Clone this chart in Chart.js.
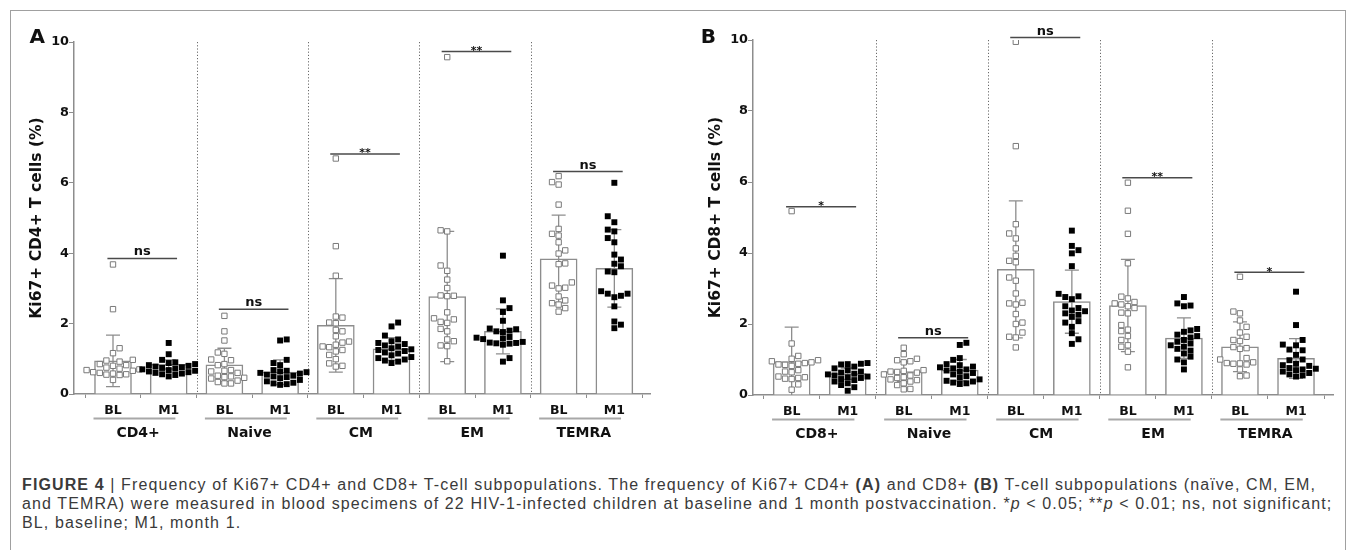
<!DOCTYPE html>
<html>
<head>
<meta charset="utf-8">
<script src="https://cdn.jsdelivr.net/npm/chart.js@4.4.1/dist/chart.umd.min.js"></script>
<style>
  body { margin: 0; background: #fff; width: 1356px; height: 550px; overflow: hidden; font-family: "Liberation Sans", Arial, sans-serif; }
  #frame { position: absolute; left: 10px; top: 10px; width: 1334px; height: 600px; border: 1.5px solid #a0a0a0; }
  .panel { position: absolute; top: 0; width: 678px; height: 450px; }
  #panelA { left: 0; }
  #panelB { left: 678px; }
  #caption { position: absolute; left: 22px; top: 475px; font-size: 16px; line-height: 19.2px; color: #3a3a3a; white-space: nowrap; }
  #caption span { display: inline-block; }
</style>
</head>
<body>
<div id="frame"></div>
<div class="panel" id="panelA"><canvas id="chartA"></canvas></div>
<div class="panel" id="panelB"><canvas id="chartB"></canvas></div>
<div id="caption">
  <div><span id="line1"><b>FIGURE 4</b> | Frequency of Ki67+ CD4+ and CD8+ T-cell subpopulations. The frequency of Ki67+ CD4+ <b>(A)</b> and CD8+ <b>(B)</b> T-cell subpopulations (naïve, CM, EM,</span></div>
  <div>and TEMRA) were measured in blood specimens of 22 HIV-1-infected children at baseline and 1 month postvaccination. *<i>p</i> &lt; 0.05; **<i>p</i> &lt; 0.01; ns, not significant;</div>
  <div>BL, baseline; M1, month 1.</div>
</div>
<script>
const xLabels = ["BL", "M1", "BL", "M1", "BL", "M1", "BL", "M1", "BL", "M1"];
const groupsA = ["CD4+", "Naive", "CM", "EM", "TEMRA"];
const groupsB = ["CD8+", "Naive", "CM", "EM", "TEMRA"];
const yTicks = [0, 2, 4, 6, 8, 10];

// bar heights (mean) and SD, order BL,M1 per group
const meanA = [0.94, 0.84, 0.83, 0.62, 1.95, 1.28, 2.77, 1.78, 3.84, 3.57];
const sdA = [0.73, 0.13, 0.47, 0.35, 1.33, 0.32, 1.85, 0.64, 1.24, 1.10];
const meanB = [0.94, 0.60, 0.66, 0.70, 3.54, 2.63, 2.52, 1.60, 1.36, 1.03];
const sdB = [0.97, 0.16, 0.28, 0.30, 1.93, 0.89, 1.30, 0.57, 0.70, 0.56];

// significance bars
const sigA = [3.85, 2.41, 6.82, 9.73, 6.32];
const sigTextA = ["ns", "ns", "**", "**", "ns"];
const sigB = [5.30, 1.61, 10.07, 6.12, 3.46];
const sigTextB = ["*", "ns", "ns", "**", "*"];

// individual children, one list per subpopulation
const aBL = [
	[3.68, 2.41, 1.30, 1.16, 0.97, 0.95, 0.92, 0.85, 0.82, 0.80, 0.75, 0.72, 0.70, 0.68, 0.66, 0.62, 0.60, 0.58, 0.56, 0.55, 0.54, 0.40],
	[2.22, 1.78, 1.52, 1.18, 1.14, 0.98, 0.96, 0.85, 0.82, 0.68, 0.66, 0.64, 0.60, 0.52, 0.50, 0.48, 0.46, 0.44, 0.38, 0.34, 0.30, 0.30],
	[6.69, 4.20, 3.36, 2.20, 2.17, 2.03, 2.01, 1.82, 1.78, 1.64, 1.49, 1.46, 1.40, 1.35, 1.33, 1.25, 1.21, 1.11, 0.99, 0.87, 0.80, 0.78],
	[9.57, 4.65, 4.62, 3.65, 3.50, 3.25, 3.01, 2.80, 2.79, 2.78, 2.32, 2.15, 2.12, 2.05, 2.02, 1.85, 1.78, 1.55, 1.50, 1.38, 1.36, 0.93],
	[6.19, 6.02, 5.95, 5.38, 4.69, 4.55, 4.50, 4.31, 4.08, 3.99, 3.71, 3.69, 3.17, 3.08, 3.02, 3.00, 2.77, 2.66, 2.58, 2.54, 2.44, 2.34],
];
const aM1 = [
	[1.45, 1.13, 0.97, 0.90, 0.88, 0.85, 0.82, 0.80, 0.78, 0.76, 0.74, 0.72, 0.70, 0.68, 0.66, 0.64, 0.62, 0.60, 0.58, 0.56, 0.54, 0.50],
	[1.55, 1.52, 0.97, 0.88, 0.82, 0.68, 0.66, 0.64, 0.62, 0.60, 0.58, 0.55, 0.52, 0.50, 0.48, 0.45, 0.40, 0.36, 0.32, 0.30, 0.28, 0.26],
	[2.03, 1.92, 1.66, 1.55, 1.50, 1.45, 1.42, 1.38, 1.35, 1.30, 1.27, 1.25, 1.22, 1.18, 1.15, 1.10, 1.05, 1.02, 0.98, 0.95, 0.92, 0.88],
	[3.93, 2.66, 2.44, 2.33, 2.08, 1.86, 1.84, 1.80, 1.78, 1.76, 1.62, 1.60, 1.58, 1.56, 1.48, 1.46, 1.45, 1.44, 1.43, 1.40, 1.02, 0.92],
	[6.00, 5.05, 4.88, 4.67, 4.62, 4.43, 4.31, 3.96, 3.82, 3.70, 3.63, 3.48, 3.46, 2.92, 2.85, 2.85, 2.79, 2.75, 2.49, 2.06, 1.97, 1.87],
];
const bBL = [
	[5.18, 1.45, 1.10, 1.02, 0.98, 0.95, 0.92, 0.90, 0.88, 0.86, 0.85, 0.82, 0.70, 0.66, 0.64, 0.52, 0.50, 0.48, 0.46, 0.45, 0.30, 0.15],
	[1.33, 1.15, 1.02, 0.98, 0.95, 0.92, 0.70, 0.68, 0.66, 0.65, 0.63, 0.58, 0.55, 0.50, 0.48, 0.44, 0.42, 0.38, 0.33, 0.28, 0.17, 0.16],
	[9.95, 7.01, 4.81, 4.55, 4.41, 4.13, 3.92, 3.78, 3.74, 3.31, 3.22, 2.86, 2.60, 2.58, 2.55, 2.28, 2.04, 2.00, 1.76, 1.64, 1.62, 1.34],
	[5.98, 5.19, 4.54, 3.71, 2.77, 2.72, 2.62, 2.58, 2.55, 2.50, 2.45, 2.32, 2.30, 1.97, 1.84, 1.80, 1.66, 1.55, 1.40, 1.36, 1.22, 0.78],
	[3.33, 2.35, 2.30, 2.10, 1.92, 1.76, 1.64, 1.55, 1.52, 1.35, 1.32, 1.30, 1.04, 1.00, 0.92, 0.90, 0.89, 0.88, 0.86, 0.72, 0.55, 0.53],
];
const bM1 = [
	[0.90, 0.88, 0.87, 0.86, 0.80, 0.75, 0.70, 0.66, 0.63, 0.60, 0.58, 0.55, 0.52, 0.50, 0.48, 0.45, 0.42, 0.38, 0.33, 0.28, 0.22, 0.12],
	[1.47, 1.41, 1.04, 0.99, 0.87, 0.84, 0.80, 0.78, 0.75, 0.72, 0.69, 0.66, 0.62, 0.58, 0.53, 0.49, 0.44, 0.40, 0.38, 0.35, 0.33, 0.31],
	[4.63, 4.20, 4.08, 3.99, 3.63, 2.85, 2.78, 2.76, 2.70, 2.50, 2.45, 2.38, 2.36, 2.30, 2.26, 2.20, 2.08, 2.04, 1.92, 1.74, 1.57, 1.44],
	[2.76, 2.58, 2.52, 2.50, 1.86, 1.82, 1.78, 1.70, 1.66, 1.62, 1.55, 1.50, 1.45, 1.40, 1.36, 1.30, 1.25, 1.17, 1.08, 1.00, 0.92, 0.72],
	[2.91, 1.97, 1.55, 1.42, 1.40, 1.28, 1.26, 1.13, 1.00, 0.98, 0.88, 0.84, 0.82, 0.76, 0.74, 0.72, 0.70, 0.66, 0.62, 0.58, 0.55, 0.52],
];

const FONT = "'DejaVu Sans', 'Liberation Sans', sans-serif";
const GREY = "#8d8d8d";

// stretch the caption's first line to the width of the printed one
function fitCaption() {
	const caption = document.getElementById("caption");
	const line1 = document.getElementById("line1");
	const chars = line1.textContent.length;
	let spacing = 0;
	for (let pass = 0; pass < 3; pass++) {
		caption.style.letterSpacing = spacing.toFixed(3) + "px";
		const w = line1.getBoundingClientRect().width;
		spacing += (1294 - w) / chars;
	}
	caption.style.letterSpacing = spacing.toFixed(3) + "px";
}
fitCaption();

function toPoints(groups, shift) {
	let pts = [];
	groups.forEach((vals, g) => {
		vals.forEach((v) => {
			pts = [...pts, { x: 2 * g + shift, y: v, g: g }];
		});
	});
	return pts;
}

// spread points sideways like a prism scatter dot plot (no overlap, in pixels)
function swarm(chart, dsIndex) {
	const xs = chart.scales.x;
	const ys = chart.scales.y;
	const step = 6.6;
	const data = chart.data.datasets[dsIndex].data;
	const byGroup = {};
	data.forEach((p) => {
		byGroup[p.g] = byGroup[p.g] || [];
		byGroup[p.g].push(p);
	});
	Object.values(byGroup).forEach((pts) => {
		const cx = xs.getPixelForValue(Math.round(pts[0].x));
		const placed = [];
		[...pts].sort((a, b) => a.y - b.y).forEach((p, n) => {
			const py = ys.getPixelForValue(p.y);
			const side = n % 2 ? 1 : -1;
			for (let k = 0; k < 40; k++) {
				const px = cx + (k % 2 ? side : -side) * Math.ceil(k / 2) * step;
				const free = placed.every((q) => Math.abs(q.x - px) > step - 0.2 || Math.abs(q.y - py) > step - 0.6);
				if (free) {
					placed.push({ x: px, y: py });
					p.x = xs.getValueForPixel(px);
					break;
				}
			}
		});
	});
}

function makeDecor(letter, groups, mean, sd, sigY, sigText, letterX) {
	return {
		id: "decor",
		beforeDatasetsDraw(chart) {
			const { ctx, chartArea } = chart;
			const xs = chart.scales.x;
			ctx.save();
			ctx.strokeStyle = "#6a6a6a";
			ctx.lineWidth = 1;
			ctx.setLineDash([1.2, 2]);
			for (let g = 1; g < groups.length; g++) {
				const x = Math.round(xs.getPixelForValue(2 * g - 0.5)) + 0.5;
				ctx.beginPath();
				ctx.moveTo(x, chartArea.top);
				ctx.lineTo(x, chartArea.bottom);
				ctx.stroke();
			}
			ctx.restore();
		},
		afterDatasetDraw(chart, args) {
			if (args.meta.type !== "bar") return;
			const { ctx } = chart;
			const xs = chart.scales.x;
			const ys = chart.scales.y;
			ctx.save();
			ctx.strokeStyle = GREY;
			ctx.lineWidth = 1.3;
			mean.forEach((m, i) => {
				const x = xs.getPixelForValue(i);
				const top = ys.getPixelForValue(m + sd[i]);
				const lo = Math.max(0, m - sd[i]);
				const bottom = ys.getPixelForValue(lo);
				ctx.beginPath();
				ctx.moveTo(x, top);
				ctx.lineTo(x, bottom);
				ctx.moveTo(x - 7, top);
				ctx.lineTo(x + 7, top);
				if (lo > 0) {
					ctx.moveTo(x - 7, bottom);
					ctx.lineTo(x + 7, bottom);
				}
				ctx.stroke();
			});
			ctx.restore();
		},
		afterDraw(chart) {
			const { ctx, chartArea } = chart;
			const xs = chart.scales.x;
			const ys = chart.scales.y;
			ctx.save();
			// significance bars
			sigY.forEach((v, g) => {
				const x1 = xs.getPixelForValue(2 * g - 0.1);
				const x2 = xs.getPixelForValue(2 * g + 1.15);
				const y = ys.getPixelForValue(v);
				ctx.strokeStyle = "#4a4a4a";
				ctx.lineWidth = 1.5;
				ctx.beginPath();
				ctx.moveTo(x1, y);
				ctx.lineTo(x2, y);
				ctx.stroke();
				ctx.fillStyle = "#111";
				ctx.textAlign = "center";
				ctx.textBaseline = "alphabetic";
				if (sigText[g] === "ns") {
					ctx.font = "bold 13px " + FONT;
					ctx.fillText("ns", (x1 + x2) / 2, y - 3);
				} else {
					ctx.font = "bold 11px " + FONT;
					ctx.fillText(sigText[g], (x1 + x2) / 2, y + 2.5);
				}
			});
			// group underline and names
			groups.forEach((name, g) => {
				const x1 = xs.getPixelForValue(2 * g - 0.35);
				const x2 = xs.getPixelForValue(2 * g + 1.12);
				const y = chartArea.bottom + 24.5;
				ctx.strokeStyle = "#a8a8a8";
				ctx.lineWidth = 2;
				ctx.beginPath();
				ctx.moveTo(x1, y);
				ctx.lineTo(x2, y);
				ctx.stroke();
				ctx.fillStyle = "#111";
				ctx.font = "bold 14px " + FONT;
				ctx.textAlign = "center";
				ctx.fillText(name, xs.getPixelForValue(2 * g + 0.45), chartArea.bottom + 42.5);
			});
			// panel letter
			ctx.font = "bold 20px " + FONT;
			ctx.textAlign = "left";
			ctx.fillText(letter, letterX, 43);
			ctx.restore();
		},
	};
}

function makePanel(canvasId, letter, yTitle, groups, bl, m1, mean, sd, sigY, sigText, lay) {
	const chart = new Chart(document.getElementById(canvasId), {
		type: "bar",
		data: {
			datasets: [
				{
					type: "bar",
					data: mean.map((m, i) => ({ x: i, y: m })),
					backgroundColor: "#ffffff",
					borderColor: GREY,
					borderWidth: 1.5,
					barThickness: 37,
					order: 2,
				},
				{
					type: "scatter",
					data: toPoints(bl, 0),
					pointStyle: "rect",
					pointRadius: 3.8,
					backgroundColor: "#ffffff",
					borderColor: "#7a7a7a",
					borderWidth: 1,
					order: 1,
				},
				{
					type: "scatter",
					data: toPoints(m1, 1),
					pointStyle: "rect",
					pointRadius: 4.2,
					backgroundColor: "#000000",
					borderColor: "#000000",
					borderWidth: 0,
					order: 0,
				},
			],
		},
		options: {
			responsive: true,
			maintainAspectRatio: false,
			animation: false,
			events: [],
			layout: {
				padding: { left: lay.padLeft, top: lay.padTop, right: lay.padRight, bottom: 0 },
			},
			scales: {
				x: {
					type: "linear",
					min: lay.xMin,
					max: lay.xMax,
					offset: false,
					afterBuildTicks: (s) => {
						s.ticks = xLabels.map((_, i) => ({ value: i }));
					},
					afterFit: (s) => {
						s.height = lay.xHeight;
					},
					border: { color: GREY, width: 1.5 },
					grid: { drawOnChartArea: false, drawTicks: true, tickLength: 4, color: GREY },
					ticks: {
						autoSkip: false,
						maxRotation: 0,
						padding: 5,
						color: "#111",
						font: { family: FONT, size: 12.5, weight: "bold" },
						callback: (v, i) => xLabels[i],
					},
				},
				y: {
					min: 0,
					max: 10,
					afterBuildTicks: (s) => {
						s.ticks = yTicks.map((v) => ({ value: v }));
					},
					afterFit: (s) => {
						s.width = lay.yWidth;
					},
					border: { color: GREY, width: 1.5 },
					grid: { drawOnChartArea: false, drawTicks: true, tickLength: 5, color: GREY },
					ticks: {
						padding: 0,
						color: "#111",
						font: { family: FONT, size: 12.8, weight: "bold" },
					},
					title: {
						display: true,
						text: yTitle,
						color: "#111",
						font: { family: FONT, size: 15.5, weight: "bold" },
					},
				},
			},
			plugins: {
				legend: { display: false },
				tooltip: { enabled: false },
			},
		},
		plugins: [makeDecor(letter, groups, mean, sd, sigY, sigText, lay.letterX)],
	});
	swarm(chart, 1);
	swarm(chart, 2);
	chart.update("none");
	return chart;
}

makePanel("chartA", "A", "Ki67+ CD4+ T cells (%)", groupsA, aBL, aM1, meanA, sdA, sigA, sigTextA,
	{ padLeft: 24, padTop: 42, padRight: 28, yWidth: 50, xHeight: 56, xMin: -0.70, xMax: 9.64, letterX: 29.5 });
makePanel("chartB", "B", "Ki67+ CD8+ T cells (%)", groupsB, bBL, bM1, meanB, sdB, sigB, sigTextB,
	{ padLeft: 25, padTop: 40, padRight: 23, yWidth: 50, xHeight: 55, xMin: -0.69, xMax: 9.66, letterX: 22.7 });
</script>
</body>
</html>
